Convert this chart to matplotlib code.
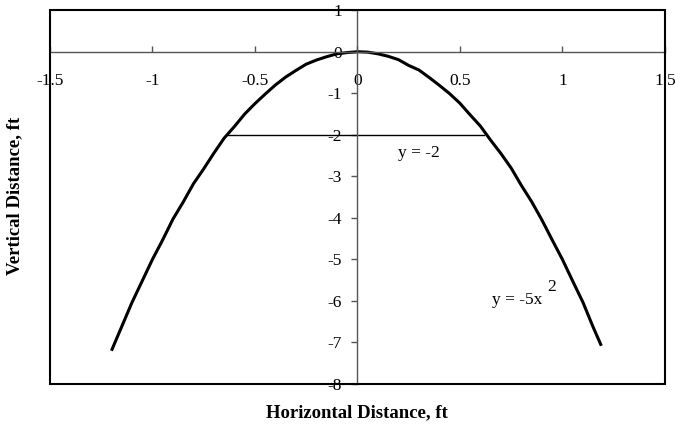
import matplotlib.pyplot as plt
from matplotlib.patches import Rectangle

# Curve: y = -5x^2
curve_x = [-1.20, -1.15, -1.10, -1.05, -1.00, -0.95, -0.90, -0.85, -0.80, -0.75,
           -0.70, -0.65, -0.60, -0.55, -0.50, -0.45, -0.40, -0.35, -0.30, -0.25,
           -0.20, -0.15, -0.10, -0.05, 0.00, 0.05, 0.10, 0.15, 0.20, 0.25,
           0.30, 0.35, 0.40, 0.45, 0.50, 0.55, 0.60, 0.65, 0.70, 0.75,
           0.80, 0.85, 0.90, 0.95, 1.00, 1.05, 1.10, 1.15, 1.19]
curve_y = [-7.20, -6.62, -6.04, -5.52, -5.00, -4.53, -4.03, -3.62, -3.18, -2.82,
           -2.44, -2.08, -1.80, -1.50, -1.25, -1.02, -0.80, -0.61, -0.45, -0.30,
           -0.20, -0.12, -0.05, -0.02, 0.00, -0.01, -0.05, -0.11, -0.19, -0.33,
           -0.44, -0.62, -0.81, -1.01, -1.24, -1.52, -1.79, -2.13, -2.45, -2.80,
           -3.22, -3.61, -4.05, -4.53, -5.00, -5.52, -6.03, -6.63, -7.08]

# y = -2 chord
chord_x = [-0.63, 0.62]
chord_y = [-2, -2]

x_ticks = [-1.5, -1, -0.5, 0, 0.5, 1, 1.5]
x_labels = ["-1.5", "-1", "-0.5", "0", "0.5", "1", "1.5"]
y_ticks = [1, 0, -1, -2, -3, -4, -5, -6, -7, -8]

plt.rcParams['font.family'] = ['Liberation Serif', 'DejaVu Serif']
plt.rcParams['axes.unicode_minus'] = False

fig = plt.figure(figsize=(6.75, 4.25), dpi=100)
ax = fig.add_axes([0.074, 0.0965, 0.911, 0.8795])

ax.plot(curve_x, curve_y, color='black', lw=2.2, solid_capstyle='butt')
ax.plot(chord_x, chord_y, color='black', lw=1)

ax.set_xlim(-1.5, 1.5)
ax.set_ylim(-8, 1)

# axes cross at the origin, frame drawn around the plot area
ax.spines['left'].set_position(('data', 0))
ax.spines['bottom'].set_position(('data', 0))
ax.spines['top'].set_visible(False)
ax.spines['right'].set_visible(False)
for s in ['left', 'bottom']:
    ax.spines[s].set_linewidth(1)
    ax.spines[s].set_color('#555555')
ax.add_patch(Rectangle((0, 0), 1, 1, transform=ax.transAxes, fill=False,
                       edgecolor='black', lw=1.5, clip_on=False, zorder=3))

ax.set_xticks(x_ticks)
ax.set_xticklabels(x_labels)
ax.set_yticks(y_ticks)
ax.tick_params(axis='x', direction='in', length=4, width=1, pad=15,
               labelsize=12.5, color='#555555')
ax.tick_params(axis='y', direction='out', length=4, width=1, pad=7,
               labelsize=12.5, color='#555555')

ax.text(0.30, -2.53, "y = -2", fontsize=12.5, ha='center', va='baseline')
ax.text(0.655, -6.07, "y = -5x", fontsize=12.5, ha='left', va='baseline')
ax.text(0.925, -5.75, "2", fontsize=12.5, ha='left', va='baseline')

fig.text(0.529, 0.028, "Horizontal Distance, ft", fontsize=13.5, fontweight='bold',
         ha='center', va='center')
fig.text(0.022, 0.54, "Vertical Distance, ft", fontsize=13.5, fontweight='bold',
         ha='center', va='center', rotation=90)

fig.savefig("out.png", dpi=100)
